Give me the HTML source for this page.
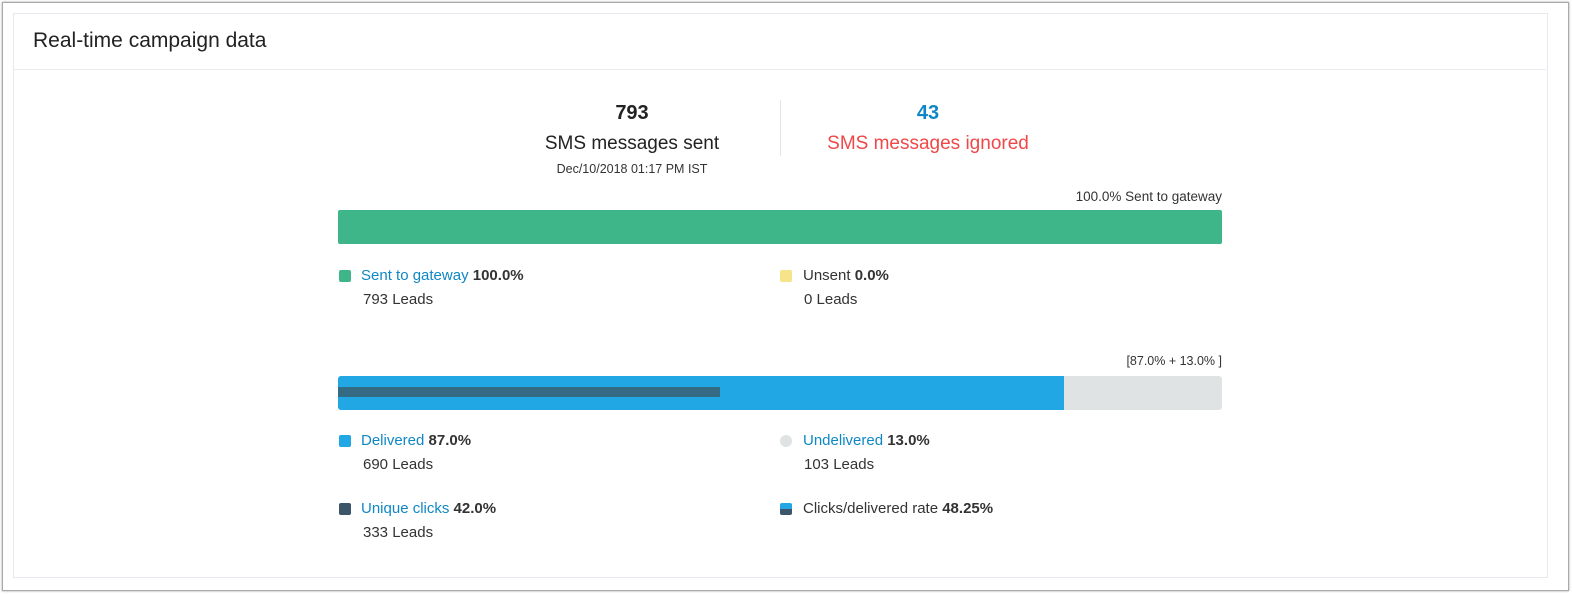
<!DOCTYPE html>
<html><head><style>
html,body{margin:0;padding:0}
body{width:1572px;height:595px;background:#fff;font-family:"Liberation Sans",sans-serif;color:#333;position:relative;overflow:hidden}
.a{position:absolute;white-space:nowrap}
.sq{position:absolute;width:12px;height:12px;border-radius:2px}
.lb{font-size:15px;color:#333}
.bl{color:#0f87c4}
b{font-weight:bold;color:#333}
</style></head><body>
<div class="a" style="left:2px;top:2px;width:1565px;height:587px;border:1px solid #aaa;box-shadow:0 0 2px #999"></div>
<div class="a" style="left:13px;top:13px;width:1533px;height:563px;border:1px solid #e6eaee;background:#fff"></div>
<div class="a" style="left:14px;top:69px;width:1532px;height:1px;background:#e8ecef"></div>
<div class="a" style="left:33px;top:29px;font-size:21px;color:#222">Real-time campaign data</div>

<div class="a" style="left:532px;width:200px;text-align:center;top:102px;font-size:20px;font-weight:bold;color:#222">793</div>
<div class="a" style="left:532px;width:200px;text-align:center;top:133px;font-size:19px;color:#222">SMS messages sent</div>
<div class="a" style="left:532px;width:200px;text-align:center;top:162px;font-size:12.5px;color:#333">Dec/10/2018 01:17 PM IST</div>
<div class="a" style="left:780px;top:100px;width:1px;height:56px;background:#e6e6e6"></div>
<div class="a" style="left:828px;width:200px;text-align:center;top:102px;font-size:20px;font-weight:bold;color:#0f87c4">43</div>
<div class="a" style="left:778px;width:300px;text-align:center;top:133px;font-size:19px;color:#f04848">SMS messages ignored</div>

<div class="a" style="left:1022px;width:200px;text-align:right;top:189px;font-size:13.5px">100.0% Sent to gateway</div>
<div class="a" style="left:338px;top:210px;width:884px;height:34px;background:#3eb68a;border-radius:2px"></div>

<div class="sq" style="left:339px;top:270px;background:#3eb68a"></div>
<div class="a lb" style="left:361px;top:267px"><span class="bl">Sent to gateway</span> <b>100.0%</b></div>
<div class="a lb" style="left:363px;top:291px">793 Leads</div>
<div class="sq" style="left:780px;top:270px;background:#f6e38a"></div>
<div class="a lb" style="left:803px;top:267px">Unsent <b>0.0%</b></div>
<div class="a lb" style="left:804px;top:291px">0 Leads</div>

<div class="a" style="left:1022px;width:200px;text-align:right;top:354px;font-size:12.5px">[87.0% + 13.0% ]</div>
<div class="a" style="left:338px;top:376px;width:884px;height:34px;background:#dfe3e4;border-radius:3px"></div>
<div class="a" style="left:338px;top:376px;width:726px;height:34px;background:#22a7e5;border-radius:3px 0 0 3px"></div>
<div class="a" style="left:338px;top:387px;width:382px;height:10px;background:#346b83"></div>

<div class="sq" style="left:339px;top:435px;background:#22a7e5"></div>
<div class="a lb" style="left:361px;top:432px"><span class="bl">Delivered</span> <b>87.0%</b></div>
<div class="a lb" style="left:363px;top:456px">690 Leads</div>
<div class="sq" style="left:780px;top:435px;background:#dfe3e4;border-radius:6px"></div>
<div class="a lb" style="left:803px;top:432px"><span class="bl">Undelivered</span> <b>13.0%</b></div>
<div class="a lb" style="left:804px;top:456px">103 Leads</div>

<div class="sq" style="left:339px;top:503px;background:#3c5568"></div>
<div class="a lb" style="left:361px;top:500px"><span class="bl">Unique clicks</span> <b>42.0%</b></div>
<div class="a lb" style="left:363px;top:524px">333 Leads</div>
<div class="sq" style="left:780px;top:503px;background:linear-gradient(#22a7e5 50%,#3c5568 50%)"></div>
<div class="a lb" style="left:803px;top:500px">Clicks/delivered rate <b>48.25%</b></div>
</body></html>
